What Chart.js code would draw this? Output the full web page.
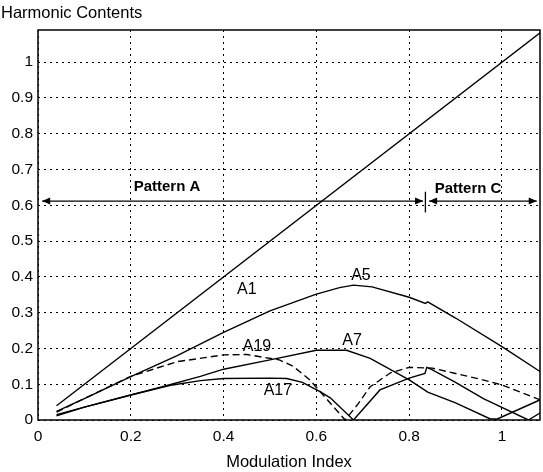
<!DOCTYPE html>
<html>
<head>
<meta charset="utf-8">
<script src="https://cdn.jsdelivr.net/npm/chart.js@4/dist/chart.umd.min.js"></script>
<style>
html, body { margin: 0; padding: 0; background: #fff; }
#wrap { width: 543px; height: 472px; }
</style>
</head>
<body>
<div id="wrap"><canvas id="harmChart" width="543" height="472"></canvas></div>
<script>
// tick labels
const xTicks = [0, 0.2, 0.4, 0.6, 0.8, 1];
const yTicks = [0, 0.1, 0.2, 0.3, 0.4, 0.5, 0.6, 0.7, 0.8, 0.9, 1];

// series (modulation index, amplitude)
const a1X = [0.04, 1.085];
const a1Y = [0.04, 1.085];

const a5X = [0.04, 0.1, 0.2, 0.3, 0.4, 0.5, 0.6, 0.65, 0.68, 0.72, 0.8, 0.835, 0.84, 0.9, 1.0, 1.085];
const a5Y = [0.024, 0.06, 0.121, 0.18, 0.245, 0.305, 0.352, 0.37, 0.377, 0.372, 0.343, 0.326, 0.33, 0.285, 0.205, 0.133];

const a19X = [0.04, 0.1, 0.2, 0.3, 0.4, 0.45, 0.52, 0.55, 0.586, 0.62, 0.662, 0.69, 0.716, 0.76, 0.8, 0.85, 0.9, 0.95, 1.0, 1.085];
const a19Y = [0.022, 0.06, 0.122, 0.163, 0.182, 0.183, 0.168, 0.15, 0.112, 0.062, 0, 0.045, 0.093, 0.132, 0.147, 0.145, 0.13, 0.115, 0.098, 0.055];

const a7X = [0.04, 0.1, 0.2, 0.28, 0.35, 0.4, 0.5, 0.6, 0.665, 0.716, 0.8, 0.84, 0.9, 0.975, 0.99, 1.085];
const a7Y = [0.015, 0.036, 0.07, 0.097, 0.122, 0.142, 0.168, 0.195, 0.195, 0.172, 0.112, 0.078, 0.048, 0.003, 0.003, 0.058];

const a17X = [0.04, 0.1, 0.2, 0.29, 0.35, 0.4, 0.5, 0.536, 0.57, 0.608, 0.63, 0.68, 0.737, 0.8, 0.834, 0.838, 0.85, 0.9, 0.96, 1.057, 1.085];
const a17Y = [0.012, 0.036, 0.07, 0.098, 0.11, 0.116, 0.117, 0.116, 0.105, 0.079, 0.062, 0, 0.084, 0.117, 0.13, 0.147, 0.14, 0.105, 0.06, 0, 0.022];

// curve labels [text, x, y]
const curveLabels = [
  ["A1", 0.45, 0.364],
  ["A5", 0.696, 0.403],
  ["A19", 0.472, 0.204],
  ["A7", 0.677, 0.221],
  ["A17", 0.517, 0.081]
];

// pattern ranges [text, from, to, textX, textY]
const arrowY = 0.612;
const patterns = [
  ["Pattern A", 0.009, 0.83, 0.278, 0.652],
  ["Pattern C", 0.843, 1.075, 0.927, 0.647]
];
const dividerX = 0.835;

function pts(xs, ys) {
  return xs.map((x, i) => ({ x: x, y: ys[i] }));
}

function line(data, dash) {
  return {
    data: data,
    borderColor: "#000",
    borderWidth: 1.4,
    borderDash: dash || [],
    pointRadius: 0,
    tension: 0,
    fill: false
  };
}

const FONT = "'Liberation Sans', Arial, Helvetica, sans-serif";
const fmt = v => String(Number(v.toFixed(2)));

function arrowHead(ctx, x, y, dir) {
  ctx.beginPath();
  ctx.moveTo(x, y);
  ctx.lineTo(x - dir * 8, y - 3.5);
  ctx.lineTo(x - dir * 8, y + 3.5);
  ctx.closePath();
  ctx.fill();
}

const decor = {
  id: "decor",
  afterDraw(chart) {
    const ctx = chart.ctx;
    const xs = chart.scales.x, ys = chart.scales.y;
    const a = chart.chartArea;
    ctx.save();
    // frame
    ctx.strokeStyle = "#000";
    ctx.lineWidth = 1.5;
    ctx.setLineDash([]);
    ctx.strokeRect(a.left, a.top, a.right - a.left, a.bottom - a.top);

    // axis title at the top
    ctx.fillStyle = "#000";
    ctx.font = "16.5px " + FONT;
    ctx.textAlign = "left";
    ctx.textBaseline = "middle";
    ctx.fillText("Harmonic Contents", 1, 13);

    // curve labels
    ctx.font = "16px " + FONT;
    ctx.textAlign = "center";
    curveLabels.forEach(l => {
      ctx.fillText(l[0], xs.getPixelForValue(l[1]), ys.getPixelForValue(l[2]));
    });

    // pattern arrows
    const py = ys.getPixelForValue(arrowY);
    ctx.lineWidth = 1.3;
    ctx.font = "bold 15px " + FONT;
    patterns.forEach(p => {
      const x0 = xs.getPixelForValue(p[1]);
      const x1 = xs.getPixelForValue(p[2]);
      ctx.beginPath();
      ctx.moveTo(x0, py);
      ctx.lineTo(x1, py);
      ctx.stroke();
      arrowHead(ctx, x0, py, -1);
      arrowHead(ctx, x1, py, 1);
      ctx.fillText(p[0], xs.getPixelForValue(p[3]), ys.getPixelForValue(p[4]));
    });
    const dx = xs.getPixelForValue(dividerX);
    ctx.beginPath();
    ctx.moveTo(dx, ys.getPixelForValue(0.638));
    ctx.lineTo(dx, ys.getPixelForValue(0.58));
    ctx.stroke();
    ctx.restore();
  }
};

new Chart(document.getElementById("harmChart"), {
  type: "line",
  data: {
    datasets: [
      line(pts(a1X, a1Y)),
      line(pts(a5X, a5Y)),
      line(pts(a19X, a19Y), [7, 4]),
      line(pts(a7X, a7Y)),
      line(pts(a17X, a17Y))
    ]
  },
  options: {
    responsive: false,
    animation: false,
    layout: { padding: { top: 30, right: 3, left: 0, bottom: 0 } },
    plugins: { legend: { display: false }, tooltip: { enabled: false } },
    scales: {
      x: {
        type: "linear",
        min: 0,
        max: 1.082,
        afterBuildTicks: s => { s.ticks = xTicks.map(v => ({ value: v })); },
        afterFit: s => { s.height = 52; },
        ticks: { color: "#000", font: { family: FONT, size: 15.5 }, padding: 7, maxRotation: 0, autoSkip: false, callback: fmt },
        grid: { color: "#000", lineWidth: 1, drawTicks: false },
        border: { display: false, dash: [2, 4] },
        title: { display: true, text: "Modulation Index", color: "#000", font: { family: FONT, size: 16.5 }, padding: { top: 0, bottom: 0 } }
      },
      y: {
        type: "linear",
        min: 0,
        max: 1.09,
        afterBuildTicks: s => { s.ticks = yTicks.map(v => ({ value: v })); },
        afterFit: s => { s.width = 38; },
        ticks: { color: "#000", font: { family: FONT, size: 15.5 }, padding: 5, autoSkip: false, callback: fmt },
        grid: { color: "#000", lineWidth: 1, drawTicks: false },
        border: { display: false, dash: [2, 4] }
      }
    }
  },
  plugins: [decor]
});
</script>
</body>
</html>
